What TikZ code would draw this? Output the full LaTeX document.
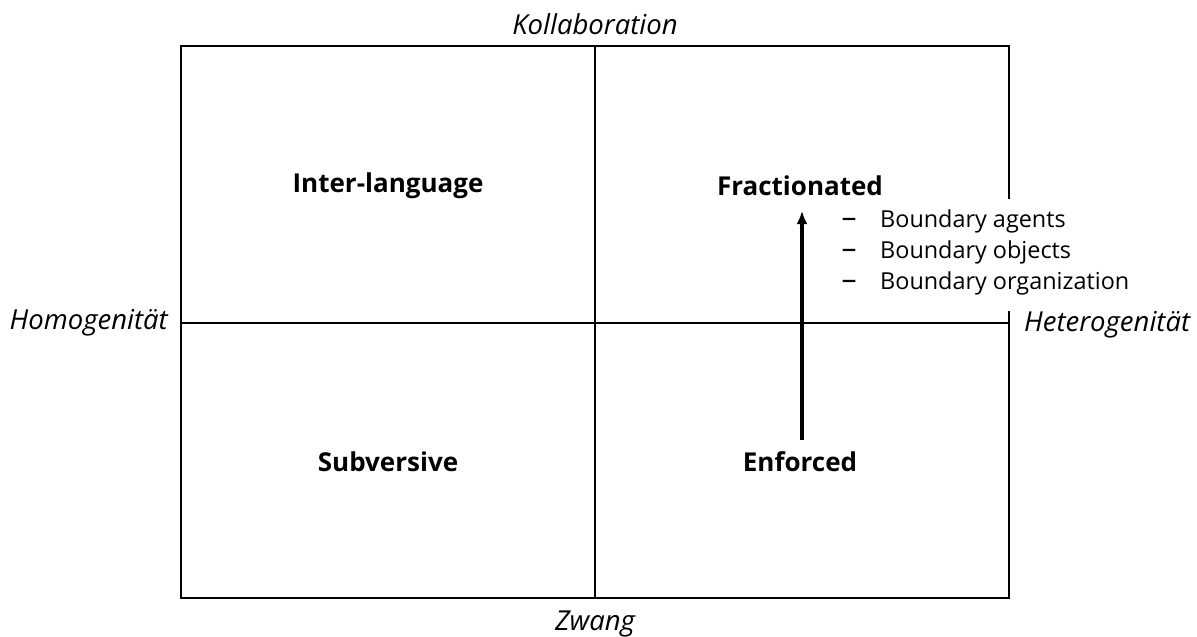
\documentclass[tikz,border=0pt]{standalone}
\usepackage{fontspec}
\setmainfont{Open Sans}
\usetikzlibrary{arrows.meta}
\tikzset{
  frame/.style={line width=2.3pt, black},
  quad/.style={font=\fontsize{26}{30}\selectfont\bfseries, inner sep=0pt},
  axis/.style={font=\fontsize{27.5}{32}\selectfont\itshape, inner sep=0pt},
  bullet/.style={font=\fontsize{23.4}{28}\selectfont, inner sep=0pt, anchor=west},
  dashmark/.style={font=\fontsize{30}{34}\selectfont, inner sep=0pt, anchor=center},
  uparrow/.style={line width=3.5pt, -{Latex[length=13pt,width=11pt]}}
}
\begin{document}
\begin{tikzpicture}[x=1pt,y=-1pt]
\useasboundingbox (0,0) rectangle (1197,637);
\coordinate (tl) at (181,46);
\coordinate (tr) at (1009,46);
\coordinate (bl) at (181,598);
\coordinate (br) at (1009,598);
\coordinate (tm) at (595,46);
\coordinate (bm) at (595,598);
\coordinate (ml) at (181,323);
\coordinate (mr) at (1009,323);
\coordinate (gaptop) at (1009,199);
\coordinate (gapbot) at (1009,311);
% frame with gap on the right side
\draw[frame] (gaptop) -- (tr) -- (tl) -- (bl) -- (br) -- (gapbot);
\draw[frame] (tm) -- (bm);
\draw[frame] (ml) -- (mr);
% axis labels
\node[axis] (kol) at (595,24) {Kollaboration};
\node[axis] (zw) at (595,624) {Zwang};
\node[axis, anchor=east] (hom) at (168,323) {Homogenität};
\node[axis, anchor=west] (het) at (1024,325) {Heterogenität};
% quadrant labels
\node[quad] (inter) at (388,186) {Inter-language};
\node[quad] (frac) at (800,186) {Fractionated};
\node[quad] (subv) at (388,462) {Subversive};
\node[quad] (enf) at (800,462) {Enforced};
% arrow
\coordinate (abot) at (802,440);
\coordinate (atop) at (802,211);
\draw[uparrow] (abot) -- (atop);
% bullet list
\node[dashmark] (d1) at (849,223) {–};
\node[dashmark] (d2) at (849,254) {–};
\node[dashmark] (d3) at (849,285) {–};
\node[bullet] (b1) at (880,221) {Boundary agents};
\node[bullet] (b2) at (880,252) {Boundary objects};
\node[bullet] (b3) at (880,283) {Boundary organization};
\end{tikzpicture}
\end{document}
